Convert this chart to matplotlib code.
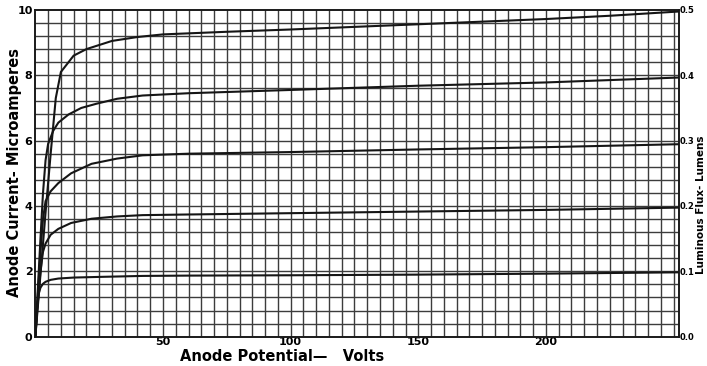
import numpy as np
import matplotlib
matplotlib.use('Agg')
import matplotlib.pyplot as plt

# *****************************************************************************

# Anode potential (volts) and anode current (microamperes) for each flux level
FLUX_LEVELS = [0.5, 0.4, 0.3, 0.2, 0.1]

V_05 = [0, 2, 4, 6, 8, 10, 15, 20, 30, 40, 50, 75, 100, 125, 150, 175, 200, 225, 252]
I_05 = [0, 1.9, 3.8, 5.6, 7.3, 8.1, 8.6, 8.8, 9.05, 9.17, 9.25, 9.33, 9.4, 9.48,
        9.56, 9.64, 9.72, 9.82, 9.95]

V_04 = [0, 1, 2, 3, 4, 5, 7, 9, 13, 18, 24, 32, 42, 60, 100, 150, 200, 252]
I_04 = [0, 1.5, 3.0, 4.4, 5.4, 5.9, 6.3, 6.55, 6.8, 7.0, 7.13, 7.28, 7.38, 7.45,
        7.55, 7.68, 7.78, 7.93]

V_03 = [0, 1, 2, 3, 4, 6, 9, 14, 22, 32, 42, 60, 100, 150, 200, 252]
I_03 = [0, 1.3, 2.6, 3.6, 4.15, 4.45, 4.7, 5.0, 5.29, 5.45, 5.55, 5.6, 5.65,
        5.73, 5.8, 5.89]

V_02 = [0, 1, 2, 3, 4, 6, 9, 14, 22, 32, 42, 60, 100, 150, 200, 252]
I_02 = [0, 1.1, 2.0, 2.6, 2.85, 3.12, 3.3, 3.48, 3.61, 3.68, 3.72, 3.74, 3.78,
        3.83, 3.88, 3.95]

V_01 = [0, 0.5, 1.3, 2, 3, 4, 6, 9, 15, 25, 42, 60, 100, 150, 200, 252]
I_01 = [0, 0.7, 1.31, 1.5, 1.62, 1.68, 1.74, 1.78, 1.81, 1.83, 1.86, 1.87,
        1.88, 1.9, 1.93, 1.97]

X_TICKS = [50, 100, 150, 200]
Y_TICKS = [0, 2, 4, 6, 8, 10]
FLUX_TICKS = ['0.0', '0.1', '0.2', '0.3', '0.4', '0.5']

# *****************************************************************************


def make_fig():

    plt.rcParams['font.family'] = ['DejaVu Sans']
    plt.rcParams['font.weight'] = 'bold'

    fig01 = plt.figure(figsize=(7.07, 3.66), dpi=100)
    axs01 = fig01.add_axes([0.050, 0.080, 0.910, 0.893])

    xmax = 252
    ymax = 10.0

    # Graph-paper grid
    for xv in np.arange(5, xmax, 5):
        axs01.axvline(xv, color='#3c3c3c', lw=1.0, zorder=1)
    for yv in np.arange(0.4, ymax, 0.4):
        axs01.axhline(yv, color='#3c3c3c', lw=1.0, zorder=1)

    curves = [(V_05, I_05), (V_04, I_04), (V_03, I_03), (V_02, I_02), (V_01, I_01)]
    for vv, ii in curves:
        axs01.plot(vv, ii, color='#151515', lw=1.5, zorder=3,
                   solid_capstyle='round', solid_joinstyle='round')

    axs01.set_xlim(0, xmax)
    axs01.set_ylim(0, ymax)

    for sp in axs01.spines.values():
        sp.set_color('#1a1a1a')
        sp.set_linewidth(1.4)

    axs01.set_xticks(X_TICKS)
    axs01.set_yticks(Y_TICKS)
    axs01.tick_params(length=0, labelsize=8, pad=2)
    axs01.tick_params(axis='x', pad=0)

    axr = axs01.twinx()
    axr.set_ylim(0, 0.5)
    axr.set_yticks(np.arange(0, 0.51, 0.1))
    axr.set_yticklabels(FLUX_TICKS)
    axr.tick_params(length=0, labelsize=6, pad=1)
    for sp in axr.spines.values():
        sp.set_visible(False)

    fig01.text(0.255, 0.026, 'Anode Potential\u2014   Volts', fontsize=10.5,
               fontweight='bold', ha='left', va='center')
    fig01.text(0.021, 0.53, 'Anode Current- Microamperes', fontsize=10.5,
               fontweight='bold', rotation=90, ha='center', va='center')
    fig01.text(0.991, 0.44, 'Luminous Flux- Lumens', fontsize=7.5,
               fontweight='bold', rotation=90, ha='center', va='center')

    plt.savefig('out.png', dpi=100)
    plt.close()

    return None

# *****************************************************************************


if (__name__ == "__main__"):

    make_fig()

# *****************************************************************************
